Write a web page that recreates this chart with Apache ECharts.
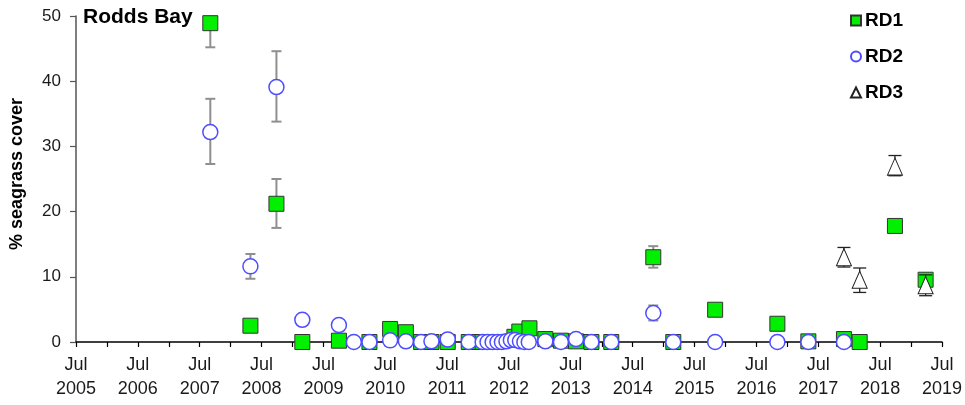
<!DOCTYPE html>
<html><head><meta charset="utf-8">
<script src="https://cdn.jsdelivr.net/npm/echarts@6/dist/echarts.min.js"></script>
<style>html,body{margin:0;padding:0;background:#fff}#c{width:965px;height:405px}</style>
</head><body><div id="c"></div>
<script>
// ---- data ----
const rd1Dates = ['2007-09-03','2008-04-27','2008-09-28','2009-02-28','2009-10-02','2010-03-31','2010-07-31','2010-11-01',
  '2011-01-30','2011-04-01','2011-07-06','2011-11-07','2012-01-28','2012-04-18','2012-08-03','2012-09-01','2012-10-31',
  '2013-02-02','2013-05-05','2013-08-02','2013-11-01','2014-02-26','2014-11-01','2015-02-27','2015-11-01','2016-11-03',
  '2017-05-05','2017-12-01','2018-03-04','2018-09-28','2019-03-28'];
const rd1Values = [48.9,2.5,21.2,0,0.2,0,2.0,1.5,
  0,0,0,0,0,0,0.8,1.6,2.1,
  0.45,0.2,0.1,0,0,13.0,0,4.95,2.8,
  0.1,0.45,0,17.8,9.55];
const rd1ErrDates = ['2007-09-03','2008-09-28','2014-11-01'];
const rd1ErrLow   = [45.2,17.5,11.4];
const rd1ErrHigh  = [52.6,25.0,14.7];

const rd2Dates = ['2007-09-03','2008-04-27','2008-09-28','2009-02-28','2009-10-02','2009-12-29','2010-03-31','2010-07-31',
  '2010-11-01','2011-01-30','2011-04-01','2011-07-06','2011-11-07',
  '2012-01-28','2012-02-26','2012-03-27','2012-04-25','2012-05-21','2012-06-17','2012-07-13','2012-08-08','2012-09-05',
  '2012-10-01','2012-10-27','2013-02-02','2013-05-05','2013-08-02','2013-11-01','2014-02-26','2014-11-01','2015-02-27',
  '2015-11-01','2016-11-03','2017-05-05','2017-12-01'];
const rd2Values = [32.2,11.6,39.1,3.4,2.6,0,0,0.25,
  0.1,0,0.1,0.4,0,
  0,0,0,0,0,0.1,0.3,0.3,0.1,
  0,0,0.1,0,0.45,0,0,4.45,0,
  0,0,0,0];
const rd2ErrDates = ['2007-09-03','2008-04-27','2008-09-28','2014-11-01'];
const rd2ErrLow   = [27.3,9.7,33.8,3.3];
const rd2ErrHigh  = [37.3,13.5,44.6,5.6];

const rd3Dates  = ['2017-12-01','2018-03-04','2018-09-28','2019-03-28'];
const rd3Values = [13.0,9.55,26.9,8.7];
const rd3ErrLow  = [11.5,7.6,25.5,7.1];
const rd3ErrHigh = [14.5,11.35,28.6,10.3];

const seriesNames = ['RD1','RD2','RD3'];
const yTicks = [0,10,20,30,40,50];
const xStartYear = 2005, xEndYear = 2019;  // axis from Jul 2005 to Jul 2019

// ---- helpers ----
function toYear(s){
  const [y,m,d] = s.split('-').map(Number);
  const a = Date.UTC(y,0,1), b = Date.UTC(y+1,0,1);
  return y + (Date.UTC(y,m-1,d) - a) / (b - a);
}
function pts(dates, vals){ return dates.map((d,i)=>[toYear(d), vals[i]]); }
function errs(dates, lo, hi){ return dates.map((d,i)=>[toYear(d), lo[i], hi[i]]); }
function errRender(capW, color, lw){
  return function(params, api){
    const x = api.value(0);
    const pLo = api.coord([x, api.value(1)]), pHi = api.coord([x, api.value(2)]);
    const h = capW/2, st = {stroke: color, lineWidth: lw};
    return {type:'group', children:[
      {type:'line', shape:{x1:pLo[0],y1:pLo[1],x2:pHi[0],y2:pHi[1]}, style:st},
      {type:'line', shape:{x1:pLo[0]-h,y1:pLo[1],x2:pLo[0]+h,y2:pLo[1]}, style:st},
      {type:'line', shape:{x1:pHi[0]-h,y1:pHi[1],x2:pHi[0]+h,y2:pHi[1]}, style:st}
    ]};
  };
}

const chart = echarts.init(document.getElementById('c'), null, {renderer:'canvas'});
const FONT = 'Liberation Sans, Arial, sans-serif';
chart.setOption({
  animation: false,
  backgroundColor: '#fff',
  title: {
    text: 'Rodds Bay', left: 83, top: 7, padding: 0,
    textStyle: {fontFamily: FONT, fontSize: 21, fontWeight: 'bold', color: '#000'}
  },
  legend: {
    data: seriesNames, orient: 'vertical', left: 850, top: 11, padding: 0,
    itemWidth: 10, itemHeight: 10, itemGap: 17, selectedMode: false,
    textStyle: {fontFamily: FONT, fontSize: 19, fontWeight: 'bold', color: '#000', lineHeight: 19, padding: [0,0,0,-1]}
  },
  grid: {left: 76, right: 22, top: 16, bottom: 63, containLabel: false},
  xAxis: {
    type: 'value', min: xStartYear + 0.5, max: xEndYear + 0.5, interval: 0.5,
    axisLine: {onZero: false, lineStyle: {color: '#000', width: 1.5}},
    axisTick: {show: true, length: 5, lineStyle: {color: '#000', width: 1.2}},
    splitLine: {show: false},
    axisLabel: {
      margin: 11, fontFamily: FONT, fontSize: 18, color: '#1a1a1a', lineHeight: 24,
      showMinLabel: true, showMaxLabel: true,
      formatter: v => (Math.abs(v % 1 - 0.5) < 1e-6) ? 'Jul\n' + Math.floor(v) : ''
    }
  },
  yAxis: {
    type: 'value', min: yTicks[0], max: yTicks[yTicks.length-1], interval: 10,
    name: '% seagrass cover', nameLocation: 'middle', nameGap: 50, nameRotate: 90,
    nameTextStyle: {fontFamily: FONT, fontSize: 18, fontWeight: 'bold', color: '#000', padding: [0,0,0,10]},
    axisLine: {show: true, lineStyle: {color: '#555', width: 1.5}},
    axisTick: {show: true, length: 6, lineStyle: {color: '#555', width: 1.2}},
    splitLine: {show: false},
    axisLabel: {margin: 15, fontFamily: FONT, fontSize: 17, color: '#1a1a1a'}
  },
  series: [
    {type:'custom', name:'rd1err', data: errs(rd1ErrDates, rd1ErrLow, rd1ErrHigh), clip: true,
     renderItem: errRender(10, '#8f8f8f', 2), encode:{x:0, y:[1,2]}, silent:true, z:1},
    {type:'scatter', name: seriesNames[0], data: pts(rd1Dates, rd1Values), symbol:'rect', symbolSize: 15,
     itemStyle:{color:'#00f000', borderColor:'#333', borderWidth:1, opacity:1}, z:2},
    {type:'custom', name:'rd2err', data: errs(rd2ErrDates, rd2ErrLow, rd2ErrHigh), clip: true,
     renderItem: errRender(10, '#8f8f8f', 2), encode:{x:0, y:[1,2]}, silent:true, z:3},
    {type:'scatter', name: seriesNames[1], data: pts(rd2Dates, rd2Values), symbol:'circle', symbolSize: 15,
     itemStyle:{color:'#fff', borderColor:'#4d4dff', borderWidth:1.5, opacity:1}, z:4},
    {type:'custom', name:'rd3err', data: errs(rd3Dates, rd3ErrLow, rd3ErrHigh), clip: true,
     renderItem: errRender(13, '#222', 1.3), encode:{x:0, y:[1,2]}, silent:true, z:5},
    {type:'scatter', name: seriesNames[2], data: pts(rd3Dates, rd3Values), symbol:'triangle', symbolSize: [15,17],
     itemStyle:{color:'#fff', borderColor:'#222', borderWidth:1, opacity:1}, z:6}
  ]
});
</script></body></html>
